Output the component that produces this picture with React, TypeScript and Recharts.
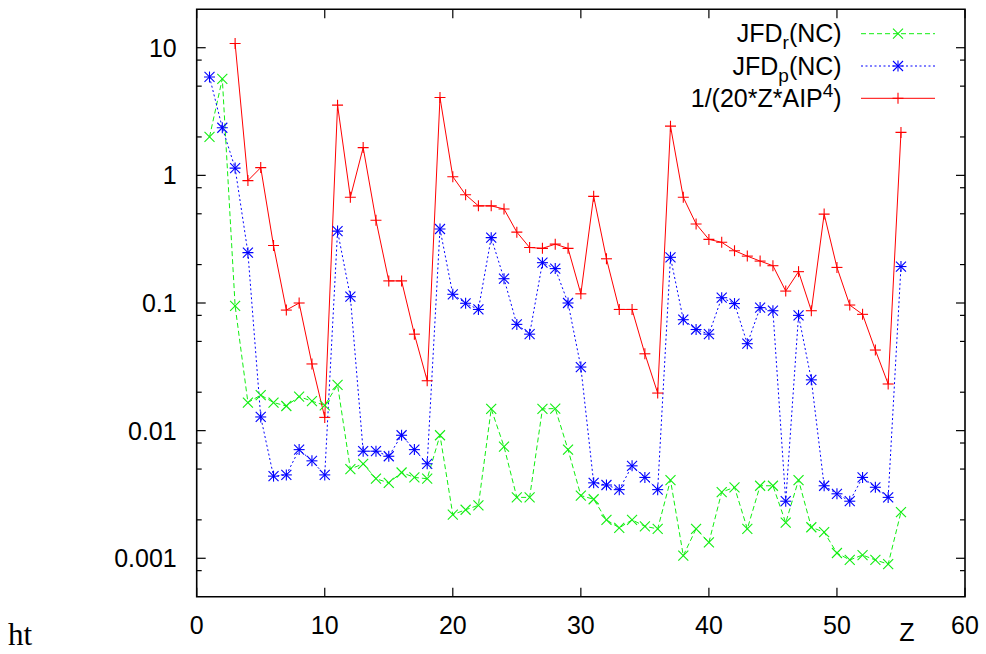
import React from "react";
import { LineChart, Line, XAxis, YAxis, ReferenceArea } from "recharts";

// atomic number Z
const zValues = [
  1, 2, 3, 4, 5, 6, 7, 8, 9, 10, 11, 12, 13, 14, 15, 16, 17, 18, 19, 20,
  21, 22, 23, 24, 25, 26, 27, 28, 29, 30, 31, 32, 33, 34, 35, 36, 37, 38, 39, 40,
  41, 42, 43, 44, 45, 46, 47, 48, 49, 50, 51, 52, 53, 54, 55,
];

// JFD_r(NC)
const jfdR = [
  2.0, 5.7, 0.095, 0.0166, 0.019, 0.0166, 0.0156, 0.0185, 0.017, 0.0158,
  0.0228, 0.005, 0.0055, 0.0042, 0.0039, 0.0047, 0.0043, 0.0042, 0.0092, 0.0022,
  0.0024, 0.0026, 0.0148, 0.0075, 0.003, 0.003, 0.0148, 0.0149, 0.0071, 0.0031,
  0.0029, 0.002, 0.00173, 0.002, 0.00178, 0.0017, 0.0041, 0.00105, 0.0017, 0.00133,
  0.0033, 0.0036, 0.0017, 0.0037, 0.0037, 0.0019, 0.0041, 0.00175, 0.0016, 0.0011,
  0.00097, 0.00106, 0.00097, 0.0009, 0.0023,
];

// JFD_p(NC)
const jfdP = [
  5.9, 2.36, 1.14, 0.248, 0.0128, 0.0044, 0.0045, 0.0071, 0.0058, 0.0045,
  0.366, 0.112, 0.0069, 0.0069, 0.0063, 0.0092, 0.0071, 0.0055, 0.38, 0.117,
  0.0995, 0.089, 0.325, 0.155, 0.068, 0.057, 0.207, 0.186, 0.1, 0.0315,
  0.0039, 0.00375, 0.00345, 0.0053, 0.0043, 0.00345, 0.228, 0.074, 0.062, 0.057,
  0.11, 0.099, 0.048, 0.092, 0.087, 0.0028, 0.08, 0.025, 0.0037, 0.0032,
  0.0028, 0.0043, 0.0036, 0.003, 0.193,
];

// 1/(20*Z*AIP^4)
const aipTerm = [
  null, null, 10.8, 0.91, 1.15, 0.282, 0.088, 0.1, 0.0333, 0.0127,
  3.55, 0.673, 1.65, 0.445, 0.149, 0.149, 0.057, 0.0246, 4.07, 0.976,
  0.705, 0.577, 0.577, 0.545, 0.359, 0.272, 0.268, 0.289, 0.268, 0.118,
  0.685, 0.222, 0.089, 0.089, 0.04, 0.0197, 2.43, 0.673, 0.416, 0.315,
  0.299, 0.257, 0.233, 0.213, 0.196, 0.124, 0.176, 0.087, 0.497, 0.19,
  0.0964, 0.0815, 0.0428, 0.0232, 2.17,
];

const xTicks = [0, 10, 20, 30, 40, 50, 60];
const yMajorTicks = [0.001, 0.01, 0.1, 1, 10];
const yMajorLabels = ["0.001", "0.01", "0.1", "1", "10"];
const yMinorTicks = [
  0.0008, 0.002, 0.005, 0.008, 0.02, 0.05, 0.08, 0.2, 0.5, 0.8, 2, 5, 8,
];

const data = zValues.map((z, i) => ({
  z,
  jfdR: jfdR[i],
  jfdP: jfdP[i],
  aip: aipTerm[i],
}));

const series = [
  { key: "jfdR", label: "r", kind: "sub", color: "#11ee11", dash: "5 3", shape: "cross" },
  { key: "jfdP", label: "p", kind: "sub", color: "#0000ff", dash: "2 2.5", shape: "star" },
  { key: "aip", label: "4", kind: "sup", color: "#ff0000", dash: undefined, shape: "plus" },
];

const W = 986;
const H = 654;
const MARGIN = { top: 9.3, right: 21, bottom: 17.3, left: 96.7 };
const Y_AXIS_W = 100;
const X_AXIS_H = 40;
const PLOT_TOP = MARGIN.top;
const PLOT_RIGHT = W - MARGIN.right;
const TICK_MARGIN = 20;
const FONT = "'Liberation Sans', Arial, sans-serif";
const FONT_SIZE = 25;

function Marker({ cx, cy, shape, color }: any) {
  const r = 5;
  const lines: number[][] = [];
  if (shape === "cross" || shape === "star") {
    lines.push([cx - r, cy - r, cx + r, cy + r], [cx - r, cy + r, cx + r, cy - r]);
  }
  if (shape === "plus" || shape === "star") {
    lines.push([cx - r - 0.5, cy, cx + r + 0.5, cy], [cx, cy - r - 0.5, cx, cy + r + 0.5]);
  }
  return (
    <g>
      {lines.map((l, i) => (
        <line key={i} x1={l[0]} y1={l[1]} x2={l[2]} y2={l[3]} stroke={color} strokeWidth={1.1} />
      ))}
    </g>
  );
}

const makeDot = (shape: string, color: string) => (props: any) => {
  const { cx, cy, index } = props;
  if (cx == null || cy == null || isNaN(cx) || isNaN(cy)) return <g key={`d${index}`} />;
  return <Marker key={`d${index}`} cx={cx} cy={cy} shape={shape} color={color} />;
};

function XTick({ x, y, payload }: any) {
  const bottom = y - TICK_MARGIN;
  return (
    <g>
      <line x1={x} x2={x} y1={bottom} y2={bottom - 9} stroke="#000" strokeWidth={1.2} />
      <line x1={x} x2={x} y1={PLOT_TOP} y2={PLOT_TOP + 9} stroke="#000" strokeWidth={1.2} />
      <text x={x} y={y} dy="0.71em" textAnchor="middle" fontFamily={FONT} fontSize={FONT_SIZE} fill="#000">
        {payload.value}
      </text>
    </g>
  );
}

function YTick({ x, y, payload }: any) {
  const left = x + TICK_MARGIN;
  const major = yMajorTicks.indexOf(payload.value);
  const len = major >= 0 ? 9 : 5;
  return (
    <g>
      <line x1={left} x2={left + len} y1={y} y2={y} stroke="#000" strokeWidth={1.2} />
      <line x1={PLOT_RIGHT - len} x2={PLOT_RIGHT} y1={y} y2={y} stroke="#000" strokeWidth={1.2} />
      {major >= 0 && (
        <text x={x} y={y} dy="0.355em" textAnchor="end" fontFamily={FONT} fontSize={FONT_SIZE} fill="#000">
          {yMajorLabels[major]}
        </text>
      )}
    </g>
  );
}

function LegendOverlay() {
  const textRight = 841.7;
  const lineX1 = 861;
  const lineX2 = 935;
  const rowY = [33.7, 66, 98.3];
  return (
    <svg width={W} height={H} style={{ position: "absolute", left: 0, top: 0, pointerEvents: "none" }}>
      {series.map((s, i) => {
        const cy = rowY[i];
        return (
          <g key={s.key}>
            {s.kind === "sub" ? (
              <text x={textRight} y={cy + 8.5} textAnchor="end" fontFamily={FONT} fontSize={FONT_SIZE} fill="#000">
                JFD
                <tspan fontSize={19} dy={7}>{s.label}</tspan>
                <tspan dy={-7}>(NC)</tspan>
              </text>
            ) : (
              <text x={textRight} y={cy + 8.5} textAnchor="end" fontFamily={FONT} fontSize={FONT_SIZE} fill="#000">
                1/(20*Z*AIP
                <tspan fontSize={19} dy={-10}>{s.label}</tspan>
                <tspan dy={10}>)</tspan>
              </text>
            )}
            <line x1={lineX1} x2={lineX2} y1={cy} y2={cy} stroke={s.color} strokeWidth={1} strokeDasharray={s.dash} />
            <Marker cx={(lineX1 + lineX2) / 2} cy={cy} shape={s.shape} color={s.color} />
          </g>
        );
      })}
      <text x={907} y={641} textAnchor="middle" fontFamily={FONT} fontSize={FONT_SIZE} fill="#000">
        Z
      </text>
      <text x={8} y={645} fontFamily="'Liberation Serif', 'DejaVu Serif', serif" fontSize={31} fill="#000">
        ht
      </text>
    </svg>
  );
}

export default function App() {
  return (
    <div style={{ position: "absolute", left: 0, top: 0, width: W, height: H, background: "#fff" }}>
      <LineChart width={W} height={H} data={data} margin={MARGIN}>
        <XAxis
          dataKey="z"
          type="number"
          domain={[0, 60]}
          ticks={xTicks}
          interval={0}
          allowDataOverflow
          axisLine={false}
          tickLine={false}
          tickSize={0}
          tickMargin={TICK_MARGIN}
          height={X_AXIS_H}
          tick={<XTick />}
        />
        <YAxis
          type="number"
          scale="log"
          domain={[0.0005, 20]}
          ticks={[...yMinorTicks, ...yMajorTicks].sort((a, b) => a - b)}
          interval={0}
          allowDataOverflow
          axisLine={false}
          tickLine={false}
          tickSize={0}
          tickMargin={TICK_MARGIN}
          width={Y_AXIS_W}
          tick={<YTick />}
        />
        <ReferenceArea
          x1={0}
          x2={60}
          y1={0.0005}
          y2={20}
          fill="none"
          fillOpacity={0}
          stroke="#000"
          strokeWidth={1.6}
          ifOverflow="visible"
        />
        {series.map((s) => (
          <Line
            key={s.key}
            dataKey={s.key}
            stroke={s.color}
            strokeWidth={1}
            strokeDasharray={s.dash}
            dot={makeDot(s.shape, s.color)}
            activeDot={false}
            connectNulls={false}
            isAnimationActive={false}
          />
        ))}
      </LineChart>
      <LegendOverlay />
    </div>
  );
}
